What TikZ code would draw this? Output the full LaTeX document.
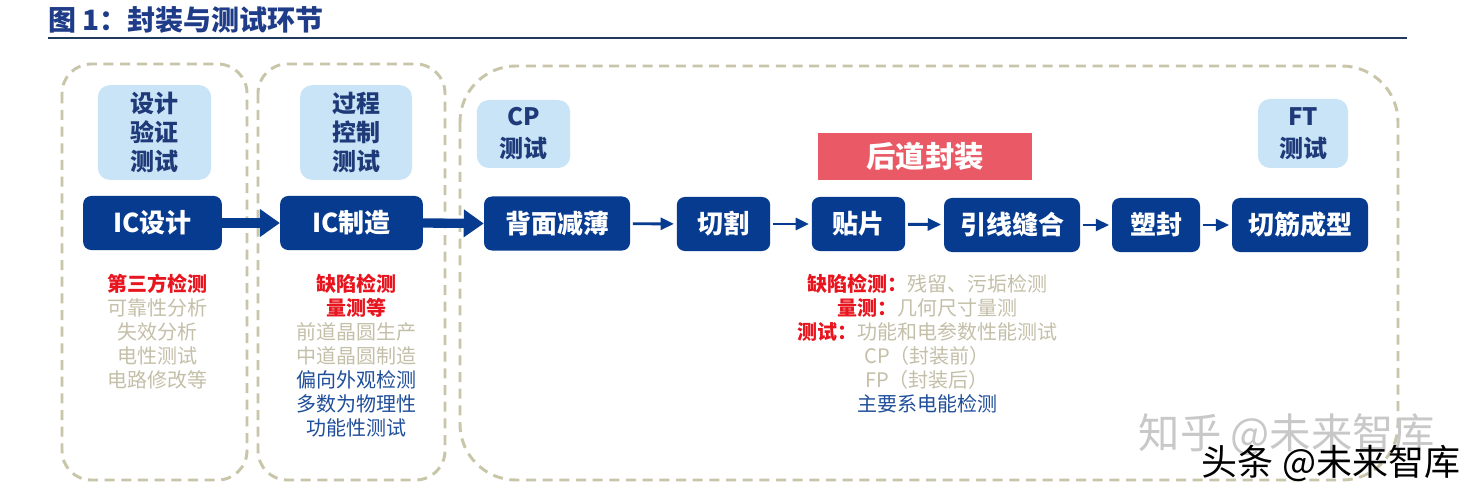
\documentclass[tikz,border=0pt]{standalone}
\usepackage{fontspec}
\setmainfont{Noto Sans CJK SC}
\usetikzlibrary{arrows.meta}
\definecolor{navy}{HTML}{073B8F}
\definecolor{lightblue}{HTML}{C9E4F7}
\definecolor{lbtext}{HTML}{1F3A78}
\definecolor{redbox}{HTML}{E95A66}
\definecolor{redtext}{HTML}{E8141E}
\definecolor{graytext}{HTML}{C4BFA8}
\definecolor{bluetext}{HTML}{1F4E9A}
\definecolor{dashcol}{HTML}{C8C5A8}
\definecolor{titlecol}{HTML}{1F3C88}
\definecolor{titleline}{HTML}{1F3A5A}
\definecolor{wmgray}{HTML}{C8C8C8}
\tikzset{
  darknode/.style={fill=navy, text=white, rounded corners=6pt, minimum height=40.5pt,
    font=\bfseries\fontsize{19.5}{22}\selectfont, inner sep=0pt},
  lightnode/.style={fill=lightblue, text=lbtext, rounded corners=9pt, align=center,
    font=\bfseries\fontsize{18}{22}\selectfont, inner sep=0pt},
  dashbox/.style={draw=dashcol, line width=2.2pt, dash pattern=on 7.5pt off 5pt},
  thickarrow/.style={draw=navy, line width=7pt, -{Triangle[length=15pt,width=20pt]}},
  thinarrow/.style={draw=navy, line width=2.2pt, -{Triangle[length=10pt,width=9pt]},
    shorten <=2pt, shorten >=2pt},
  infotext/.style={align=center, font=\fontsize{15}{18}\selectfont, inner sep=0pt, anchor=north},
}
\newcommand{\rd}[1]{\textcolor{redtext}{\bfseries #1}}
\newcommand{\gy}[1]{\textcolor{graytext}{#1}}
\newcommand{\bl}[1]{\textcolor{bluetext}{#1}}
\begin{document}
\begin{tikzpicture}[x=0.75pt,y=-0.75pt]
\useasboundingbox[fill=white] (0,0) rectangle (1483,495);
% title
\node[anchor=west, inner sep=0pt, text=titlecol, font=\bfseries\fontsize{21}{24}\selectfont] (title) at (48,20) {图 1：封装与测试环节};
\coordinate (tl1) at (48,38);
\coordinate (tl2) at (1407,38);
\draw[titleline, line width=2pt] (tl1) -- (tl2);
% dashed boxes
\draw[dashbox, rounded corners=22pt] (62,64) rectangle (247,480);
\draw[dashbox, rounded corners=22pt] (258,64) rectangle (445,480);
\draw[dashbox, rounded corners=42pt] (460,66) rectangle (1398,480);
% light blue boxes
\node[lightnode, minimum width=85pt, minimum height=71pt] (lb1) at (154.5,132.5) {设计\\验证\\测试};
\node[lightnode, minimum width=84pt, minimum height=71pt] (lb2) at (356,132.5) {过程\\控制\\测试};
\node[lightnode, minimum width=70pt, minimum height=51pt, font=\bfseries\fontsize{18}{24}\selectfont] (cp) at (523.5,134) {CP\\测试};
\node[lightnode, minimum width=67.5pt, minimum height=51.75pt, font=\bfseries\fontsize{18}{24}\selectfont] (ft) at (1303,133.5) {FT\\测试};
\node[fill=redbox, text=white, minimum width=160.5pt, minimum height=35pt, inner sep=0pt,
  font=\bfseries\fontsize{22}{24}\selectfont] (hd) at (925,156.5) {后道封装};
% process nodes
\node[darknode, minimum width=104pt] (icd) at (152.5,223) {IC设计};
\node[darknode, minimum width=107pt] (icm) at (351.5,223) {IC制造};
\node[darknode, minimum width=109.5pt] (bm) at (557,223.5) {背面减薄};
\node[darknode, minimum width=70pt] (qg) at (723.5,224) {切割};
\node[darknode, minimum width=70pt] (tp) at (858.5,224) {贴片};
\node[darknode, minimum width=102pt] (yx) at (1012,225) {引线缝合};
\node[darknode, minimum width=66pt] (sf) at (1156,225) {塑封};
\node[darknode, minimum width=102pt] (qj) at (1300,225) {切筋成型};
% arrows
\draw[thickarrow] (icd.east) -- (icm.west);
\draw[thickarrow] (icm.east) -- (bm.west);
\draw[thinarrow] (bm) -- (qg);
\draw[thinarrow] (qg) -- (tp);
\draw[thinarrow] (tp) -- (yx);
\draw[thinarrow] (yx) -- (sf);
\draw[thinarrow] (sf) -- (qj);
% info texts
\node[infotext] (c1) at (157,274) {\rd{第三方检测}\\\gy{可靠性分析}\\\gy{失效分析}\\\gy{电性测试}\\\gy{电路修改等}};
\node[infotext] (c2) at (356,274) {\rd{缺陷检测}\\\rd{量测等}\\\gy{前道晶圆生产}\\\gy{中道晶圆制造}\\\bl{偏向外观检测}\\\bl{多数为物理性}\\\bl{功能性测试}};
\node[infotext] (c3) at (927,274) {\rd{缺陷检测：}\gy{残留、污垢检测}\\\rd{量测：}\gy{几何尺寸量测}\\\rd{测试：}\gy{功能和电参数性能测试}\\\gy{CP（封装前）}\\\gy{FP（封装后）}\\\bl{主要系电能检测}};
% watermarks
\node[text=wmgray, font=\fontsize{31}{33}\selectfont, inner sep=0pt] (wm1) at (1287,435) {知乎 @未来智库};
\node[text=black, font=\fontsize{27}{30}\selectfont, inner sep=0pt] (wm2) at (1331,463) {头条 @未来智库};
\end{tikzpicture}
\end{document}
